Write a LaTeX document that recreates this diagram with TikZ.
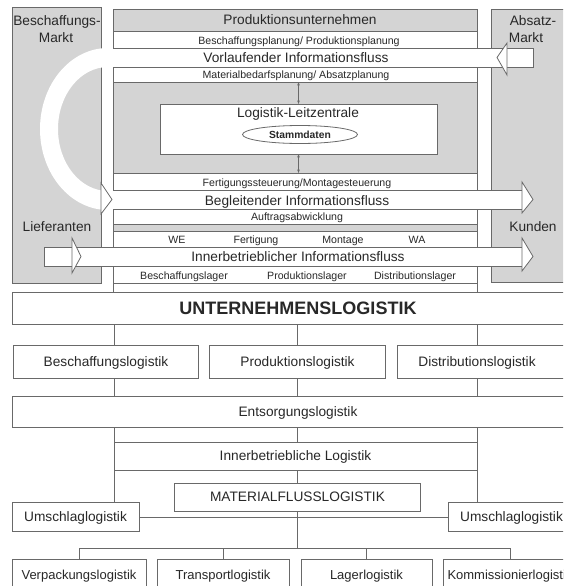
\documentclass[tikz,border=0pt]{standalone}
\usepackage{fontspec}
\setmainfont{Liberation Sans}
\usetikzlibrary{shapes.geometric,arrows.meta}
\definecolor{linec}{RGB}{105,105,105}
\definecolor{fillg}{RGB}{212,212,212}
\definecolor{textc}{RGB}{40,40,40}

\begin{document}
\begin{tikzpicture}[x=1pt,y=-1pt,
  every node/.style={inner sep=0pt, outer sep=0pt, text=textc, text depth=0pt},
  ln/.style={draw=linec, line width=0.8pt},
  row/.style={ln, fill=white, minimum width=364pt},
  grayrow/.style={ln, fill=fillg, minimum width=364pt},
  side/.style={ln, fill=fillg, minimum width=89pt},
  big/.style={font=\fontsize{13.7}{16}\selectfont, text height=9.8pt},
  sm/.style={font=\fontsize{10.6}{12}\selectfont, text height=7.6pt},
  box/.style={ln, fill=white, font=\fontsize{13.7}{16}\selectfont, text height=9.8pt},
  leaf/.style={ln, fill=white, font=\fontsize{13}{15}\selectfont, text height=9.3pt, minimum height=32pt},
  conn/.style={draw=linec, line width=0.8pt},
  dbl/.style={conn, {Stealth[length=3.5pt,width=2.6pt]}-{Stealth[length=3.5pt,width=2.6pt]}},
  headshape/.style={ln, fill=white},
]
\useasboundingbox (0,0) rectangle (563,586);
\fill[white] (0,0) rectangle (563,586);
\begin{scope}
\clip (0,0) rectangle (563,586);

% --- market boxes on both sides
\node[side, minimum height=276pt] (bm) at (56.5,145) {};
\node[side, minimum height=273pt] (am) at (535.5,145.5) {};

% --- white loop leading the preceding flow back into the accompanying flow
\begin{scope}
  \clip (20,30) rectangle (104,230);
  \fill[white, even odd rule] (108,129) ellipse [x radius=68, y radius=81]
                              (108,129) ellipse [x radius=50, y radius=62];
\end{scope}

% --- white information flow bands
\fill[white] (113,48) rectangle (533,67);
\fill[white] (113,190) rectangle (522,209);
\fill[white] (44,247) rectangle (522,266);

% --- rows of the production company
\node[grayrow, minimum height=22pt] (hd) at (295,20) {};
\node[row, minimum height=17pt] (r1) at (295,39.5) {};
\node[row, minimum height=15pt] (r2) at (295,74.5) {};
\node[grayrow, minimum height=91pt] (lz) at (295,127.5) {};
\node[ln, fill=white, minimum width=277pt, minimum height=50pt] (lzbox) at (298.5,129) {};
\node[ln, ellipse, fill=white, minimum width=115pt, minimum height=18pt,
      font=\bfseries\fontsize{10.3}{12}\selectfont, text height=7.4pt] (stamm) at (300,134.5) {Stammdaten};
\node[row, minimum height=17pt] (r3) at (295,181.5) {};
\node[row, minimum height=15pt] (r4) at (295,216.5) {};
\node[grayrow, minimum height=7pt] (strip) at (295,227.5) {};
\node[row, minimum height=16pt] (r5) at (295,239) {};
\node[row, minimum height=17pt] (r6) at (295,274.5) {};

% --- outlines of the flow bands
\draw[ln] (113,48) -- (533,48) -- (533,67) -- (113,67);
\draw[ln] (113,190) -- (522,190);
\draw[ln] (113,209) -- (522,209);
\draw[ln] (522,247) -- (44,247) -- (44,266) -- (522,266);

% --- arrow heads
\draw[headshape] (507,43) -- (497,57.5) -- (507,75) -- cycle;
\draw[headshape] (101,183) -- (112,199.5) -- (101,214) -- cycle;
\draw[headshape] (522,182) -- (533,199.5) -- (522,213) -- cycle;
\draw[headshape] (72,238) -- (81,256.5) -- (72,273) -- cycle;
\draw[headshape] (522,238) -- (533,256.5) -- (522,271) -- cycle;

% --- data exchange with the control centre
\draw[dbl] (lzbox.north) -- (lzbox.north |- r2.south);
\draw[dbl] (lzbox.south) -- (lzbox.south |- r3.north);

% --- labels, upper part
\node[big] at (57,20.3) {Beschaffungs-};
\node[big] at (56,37.5) {Markt};
\node[big] at (533,20.3) {Absatz-};
\node[big] at (526,37.5) {Markt};
\node[big] at (57,226.7) {Lieferanten};
\node[big] at (533,227) {Kunden};

\node[big] at (300,20) {Produktionsunternehmen};
\node[sm]  at (299,40.5) {Beschaffungsplanung/ Produktionsplanung};
\node[big] at (296,57.5) {Vorlaufender Informationsfluss};
\node[sm]  at (296,74.2) {Materialbedarfsplanung/ Absatzplanung};
\node[big] at (298,112.8) {Logistik-Leitzentrale};
\node[sm]  at (297,182.5) {Fertigungssteuerung/Montagesteuerung};
\node[big] at (297,200.3) {Begleitender Informationsfluss};
\node[sm]  at (297,217) {Auftragsabwicklung};
\node[sm]  at (177,239.7) {WE};
\node[sm]  at (256,239.7) {Fertigung};
\node[sm]  at (343,239.7) {Montage};
\node[sm]  at (417,239.7) {WA};
\node[big] at (298,257) {Innerbetrieblicher Informationsfluss};
\node[sm]  at (184,275.7) {Beschaffungslager};
\node[sm]  at (307,275.7) {Produktionslager};
\node[sm]  at (415,275.7) {Distributionslager};

% --- logistics hierarchy
\node[box, minimum width=572pt, minimum height=32pt,
      font=\bfseries\fontsize{18}{20}\selectfont, text height=12.9pt] (ul) at (298,308) {UNTERNEHMENSLOGISTIK};
\node[box, minimum width=185pt, minimum height=33pt] (besl) at (106,361.5) {Beschaffungslogistik};
\node[box, minimum width=176pt, minimum height=33pt] (prodl) at (297.5,361.5) {Produktionslogistik};
\node[box, minimum width=185pt, minimum height=33pt] (distl) at (489.5,361.5) {};
\node[big] at (477,361.5) {Distributionslogistik};
\node[box, minimum width=572pt, minimum height=31pt] (ent) at (298,411.5) {Entsorgungslogistik};
\node[box, minimum width=363pt, minimum height=28pt] (ib) at (295.5,456) {Innerbetriebliche Logistik};
\node[box, minimum width=246pt, minimum height=28pt] (mfl) at (297.5,497) {MATERIALFLUSSLOGISTIK};
\node[box, minimum width=127pt, minimum height=29pt] (uml) at (75.5,517) {Umschlaglogistik};
\node[box, minimum width=127pt, minimum height=29pt] (umr) at (511.5,517) {Umschlaglogistik};
\node[leaf, minimum width=134pt] (verp) at (79,575) {Verpackungslogistik};
\node[leaf, minimum width=132pt] (trans) at (223,575) {Transportlogistik};
\node[leaf, minimum width=131pt] (lager) at (366.5,575) {Lagerlogistik};
\node[leaf, minimum width=134pt] (komm) at (510,575) {Kommissionierlogistik};

% --- connectors
\draw[conn] (r6.south west) -- (ul.north -| r6.south west);
\draw[conn] (r6.south east) -- (ul.north -| r6.south east);
\draw[conn] (ul.south -| ib.west) -- (besl.north -| ib.west);
\draw[conn] (ul.south -| prodl.north) -- (prodl.north);
\draw[conn] (ul.south -| ib.east) -- (distl.north -| ib.east);
\draw[conn] (besl.south -| ib.west) -- (ent.north -| ib.west);
\draw[conn] (prodl.south) -- (ent.north -| prodl.south);
\draw[conn] (distl.south -| ib.east) -- (ent.north -| ib.east);
\draw[conn] (ent.south -| ib.west) -- (uml.north -| ib.west);
\draw[conn] (ent.south -| ib.east) -- (umr.north -| ib.east);
\draw[conn] (ent.south -| prodl.south) -- (ib.north -| prodl.south);
\draw[conn] (ib.south -| mfl.north) -- (mfl.north);
\draw[conn] (uml.east) -- (umr.west);
\coordinate (bus) at (297.5,548);
\draw[conn] (mfl.south) -- (bus);
\draw[conn] (verp.north) -- (verp.north |- bus) -- (komm.north |- bus) -- (komm.north);
\draw[conn] (trans.north) -- (trans.north |- bus);
\draw[conn] (lager.north) -- (lager.north |- bus);
\end{scope}
\end{tikzpicture}
\end{document}
